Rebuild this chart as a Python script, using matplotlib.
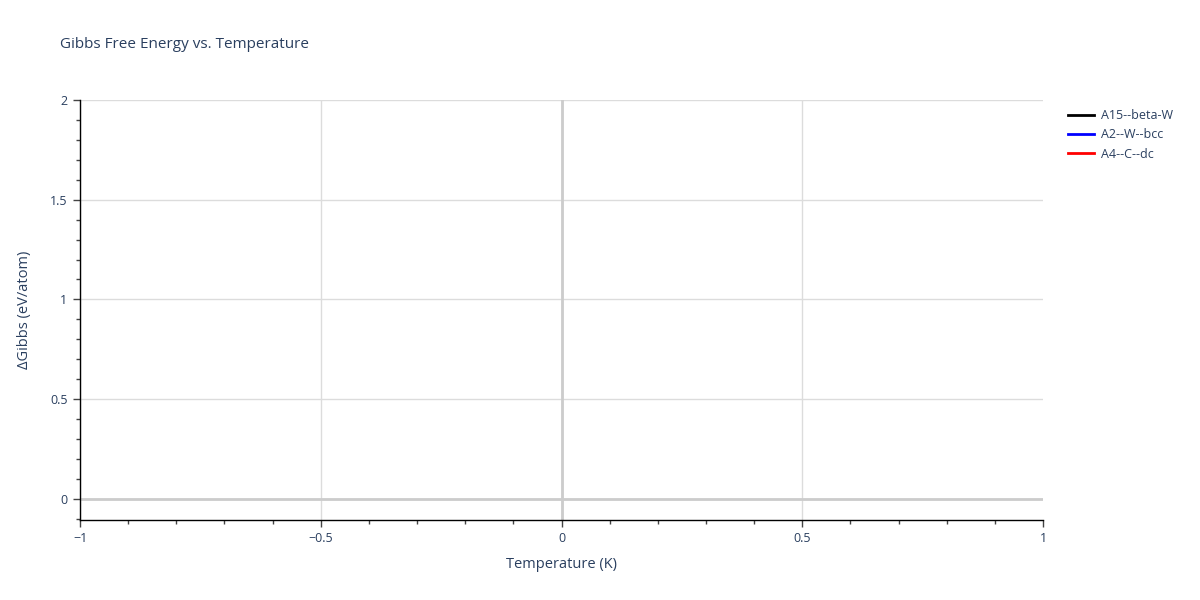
import matplotlib
matplotlib.use("Agg")
from matplotlib import pyplot as plt   # noqa: E402
from matplotlib.ticker import MultipleLocator  # noqa: E402

# Series carry no points in the source figure; only the legend shows them.
series_names = ["A15--beta-W", "A2--W--bcc", "A4--C--dc"]
series_colors = ["black", "blue", "red"]
temperature = [[], [], []]
gibbs = [[], [], []]

x_ticks = [-1, -0.5, 0, 0.5, 1]
x_labels = ["\u22121", "\u22120.5", "0", "0.5", "1"]
y_ticks = [0, 0.5, 1, 1.5, 2]
y_labels = ["0", "0.5", "1", "1.5", "2"]

TXT = "#2a3f5f"
GRID = "#dcdcdc"
plt.rcParams["font.family"] = ["Open Sans", "DejaVu Sans"]

fig = plt.figure(figsize=(12, 6), dpi=100)
ax = fig.add_axes([80 / 1200, 80 / 600, (1043 - 80) / 1200, 420 / 600])

for xs, ys, name, col in zip(temperature, gibbs, series_names, series_colors):
    ax.plot(xs, ys, color=col, lw=2, label=name)

ax.set_xlim(-1, 1)
ax.set_ylim(-0.106, 2.0)
ax.set_xticks(x_ticks, x_labels)
ax.set_yticks(y_ticks, y_labels)
ax.xaxis.set_minor_locator(MultipleLocator(0.1))
ax.yaxis.set_minor_locator(MultipleLocator(0.1))
ax.grid(True, which="major", color=GRID, lw=1)
# no grid line drawn on the right edge
ax.get_xgridlines()[-1].set_visible(False)
ax.axhline(0, color="#cccccc", lw=2, zorder=1)
ax.axvline(0, color="#cccccc", lw=2, zorder=1)
ax.set_axisbelow(True)

for side in ("top", "right"):
    ax.spines[side].set_visible(False)
for side in ("left", "bottom"):
    ax.spines[side].set_color("black")
    ax.spines[side].set_linewidth(1)

ax.tick_params(which="both", direction="out", color="#444444", labelcolor=TXT,
               labelsize=9, width=1)
ax.tick_params(which="major", length=5, pad=4)
ax.tick_params(which="minor", length=3)

ax.set_xlabel("Temperature (K)", fontsize=10.5, color=TXT, labelpad=8)
ax.set_ylabel("\u0394Gibbs (eV/atom)", fontsize=10.5, color=TXT, labelpad=13)
fig.text(60 / 1200, 1 - 45 / 600, "Gibbs Free Energy vs. Temperature",
         fontsize=11, color=TXT, va="center", ha="left")

leg = ax.legend(loc="upper left", bbox_to_anchor=(1.021, 0.99), frameon=False,
                fontsize=9, handlelength=2.1, handletextpad=0.5, labelspacing=0.5,
                borderaxespad=0)
for t in leg.get_texts():
    t.set_color(TXT)

fig.savefig("out.png", dpi=100)
